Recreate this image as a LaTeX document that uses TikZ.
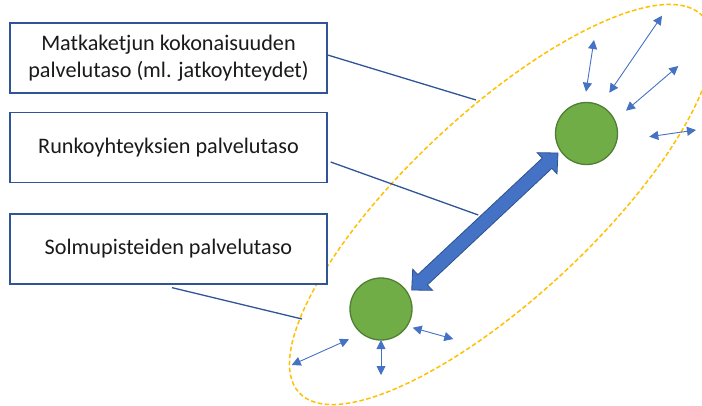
\documentclass[tikz,border=0pt]{standalone}
\usepackage{fontspec}
\setmainfont{Carlito}
\usetikzlibrary{arrows.meta,calc}
\definecolor{boxblue}{HTML}{2F5597}
\definecolor{arrblue}{HTML}{4472C4}
\definecolor{arrdark}{HTML}{2F528F}
\definecolor{ellorange}{HTML}{FFC000}
\definecolor{nodegreen}{HTML}{70AD47}
\definecolor{nodegreendark}{HTML}{507E32}
\definecolor{txt}{HTML}{1A1A1A}
\tikzset{
  labelbox/.style={draw=boxblue, line width=1.3pt, fill=white, minimum width=317pt, minimum height=70pt,
    inner sep=0pt, align=center, text=txt, font=\fontsize{22.2}{27}\selectfont},
  callout/.style={draw=boxblue, line width=1.3pt},
  hub/.style={circle, draw=nodegreendark, line width=1.3pt, fill=nodegreen, minimum size=62pt, inner sep=0pt},
  small/.style={draw=arrblue, line width=0.9pt, {Triangle[length=9pt,width=9pt]}-{Triangle[length=9pt,width=9pt]}},
  zone/.style={draw=ellorange, line width=1.5pt, dash pattern=on 4.5pt off 2.5pt},
  bigarrow/.style={fill=arrblue, draw=arrdark, line width=0.8pt, line join=miter}
}
\begin{document}
\begin{tikzpicture}[x=1pt,y=-1pt]
\useasboundingbox (0,0) rectangle (702,405);
\clip (0,0) rectangle (702,405);

% zone ellipse
\coordinate (ec) at (501,204.5);
\draw[zone, rotate around={43:(ec)}] (ec) ellipse [x radius=276pt, y radius=92.5pt];

% boxes
\node[labelbox] (b1) at (168.5,58) {Matkaketjun kokonaisuuden\\palvelutaso (ml. jatkoyhteydet)};
\node[labelbox] (b2) at (168.5,147.5) {Runkoyhteyksien palvelutaso};
\node[labelbox] (b3) at (168.5,249) {Solmupisteiden palvelutaso};

% callout ends
\coordinate (e1) at (476,100);
\coordinate (e2) at (478.3,215);
\coordinate (e3) at (302,319);
\draw[callout] ($(b1.east)+(0,-3)$) -- (e1);
\draw[callout] ($(b2.east)+(3,14.5)$) -- (e2);
\draw[callout] ($(b3.south)+(3.5,3)$) -- (e3);

% hubs
\node[hub] (hu) at (586.5,133.5) {};
\node[hub] (hl) at (381,309) {};

% big double arrow
\draw[bigarrow] (411.7,290) -- (432.6,290.3) -- (427.4,284.9) -- (551.8,168.4) -- (557.0,173.8)
  -- (558,153) -- (537.1,152.7) -- (542.3,158.1) -- (417.9,274.6) -- (412.7,269.2) -- cycle;

% small arrows, upper hub
\coordinate (u1a) at (586,91.7);  \coordinate (u1b) at (594,40);
\coordinate (u2a) at (609.3,92.7); \coordinate (u2b) at (662,15.7);
\coordinate (u3a) at (626,110.7); \coordinate (u3b) at (678.3,66);
\coordinate (u4a) at (649.3,136.7); \coordinate (u4b) at (696,130);
\draw[small] (u1a) -- (u1b);
\draw[small] (u2a) -- (u2b);
\draw[small] (u3a) -- (u3b);
\draw[small] (u4a) -- (u4b);

% small arrows, lower hub
\coordinate (l1a) at (291.7,365); \coordinate (l1b) at (349,339.3);
\coordinate (l2a) at (381,340);   \coordinate (l2b) at (381,375);
\coordinate (l3a) at (412.7,327.7); \coordinate (l3b) at (453.3,339);
\draw[small] (l1a) -- (l1b);
\draw[small] (l2a) -- (l2b);
\draw[small] (l3a) -- (l3b);
\end{tikzpicture}
\end{document}
